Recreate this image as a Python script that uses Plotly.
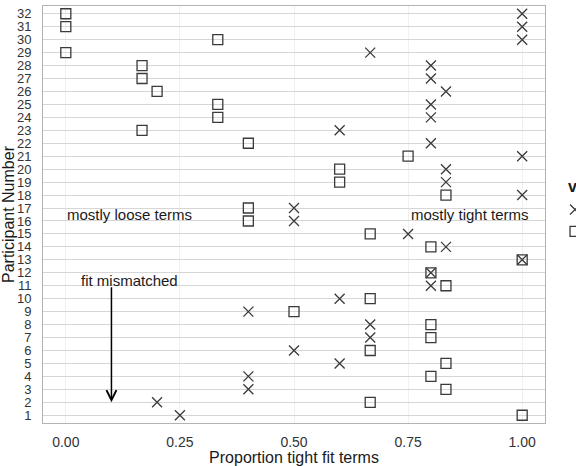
import plotly.graph_objects as go

participants = list(range(1, 33))
# proportion tight fit terms, per participant (1..32)
x_cross = [0.25, 0.20, 0.40, 0.40, 0.60, 0.50, 0.667, 0.667, 0.40, 0.60,
           0.80, 0.80, 1.00, 0.833, 0.75, 0.50, 0.50, 1.00, 0.833, 0.833,
           1.00, 0.80, 0.60, 0.80, 0.80, 0.833, 0.80, 0.80, 0.667, 1.00,
           1.00, 1.00]
x_square = [1.00, 0.667, 0.833, 0.80, 0.833, 0.667, 0.80, 0.80, 0.50, 0.667,
            0.833, 0.80, 1.00, 0.80, 0.667, 0.40, 0.40, 0.833, 0.60, 0.60,
            0.75, 0.40, 0.167, 0.333, 0.333, 0.20, 0.167, 0.167, 0.00, 0.333,
            0.00, 0.00]
series_names = ["tight", "loose"]
x_ticks = [0.0, 0.25, 0.5, 0.75, 1.0]
x_tick_labels = ["0.00", "0.25", "0.50", "0.75", "1.00"]

FONT = "Liberation Sans, Arial, Helvetica, sans-serif"
MC = "#3a3a3a"

fig = go.Figure()
fig.add_trace(go.Scatter(x=x_cross, y=participants, mode="markers", name=series_names[0],
                         marker=dict(symbol="x-thin-open", size=10, color=MC,
                                     line=dict(width=1.3, color=MC))))
fig.add_trace(go.Scatter(x=x_square, y=participants, mode="markers", name=series_names[1],
                         marker=dict(symbol="square-open", size=10, color=MC,
                                     line=dict(width=1.3, color=MC))))

fig.update_layout(
    width=576, height=466,
    margin=dict(l=43, r=31, t=6, b=43, autoexpand=False),
    paper_bgcolor="white", plot_bgcolor="white",
    font=dict(family=FONT, size=13, color="#1a1a1a"),
    showlegend=True,
    legend=dict(x=1.02, xanchor="left", y=0.55, yanchor="top",
                font=dict(size=14.5, color="#1a1a1a"), bgcolor="rgba(0,0,0,0)",
                itemwidth=30),
    xaxis=dict(range=[-0.05, 1.05], tickvals=x_ticks, ticktext=x_tick_labels,
               showgrid=True, gridcolor="#f0f0f0", gridwidth=1, zeroline=False,
               showline=True, mirror=True, linecolor="#b3b3b3", linewidth=1,
               ticks="", ticklabelstandoff=6,
               tickfont=dict(size=14, color="#333333"),
               title=dict(text="Proportion tight fit terms", font=dict(size=16, color="#1a1a1a"),
                          standoff=0)),
    yaxis=dict(range=[0.4, 32.6], tickvals=participants,
               ticktext=[str(p) for p in participants],
               showgrid=True, gridcolor="#d6d6d6", gridwidth=1.3, zeroline=False,
               showline=True, mirror=True, linecolor="#b3b3b3", linewidth=1,
               ticks="", ticklabelstandoff=8,
               tickfont=dict(size=13, color="#333333"),
               title=dict(text="Participant Number", font=dict(size=16, color="#1a1a1a"),
                          standoff=2)),
)

fig.add_annotation(x=0.14, y=16.5, text="mostly loose terms", showarrow=False,
                   font=dict(size=15, color="#1a1a1a"))
fig.add_annotation(x=0.885, y=16.5, text="mostly tight terms", showarrow=False,
                   font=dict(size=15, color="#1a1a1a"))
fig.add_annotation(x=0.14, y=11.4, text="fit mismatched", showarrow=False,
                   font=dict(size=15, color="#1a1a1a"))
fig.add_annotation(x=0.1, y=2, ax=0.1, ay=11, xref="x", yref="y", axref="x", ayref="y",
                   text="", showarrow=True, arrowhead=5, arrowsize=1.3, arrowwidth=1.5,
                   arrowcolor="black", standoff=0, startstandoff=0)
fig.add_annotation(x=1.042, y=0.568, xref="paper", yref="paper", xanchor="left",
                   text="<b>verb</b>", showarrow=False, font=dict(size=16, color="#1a1a1a"))

fig.write_html("out.html")
